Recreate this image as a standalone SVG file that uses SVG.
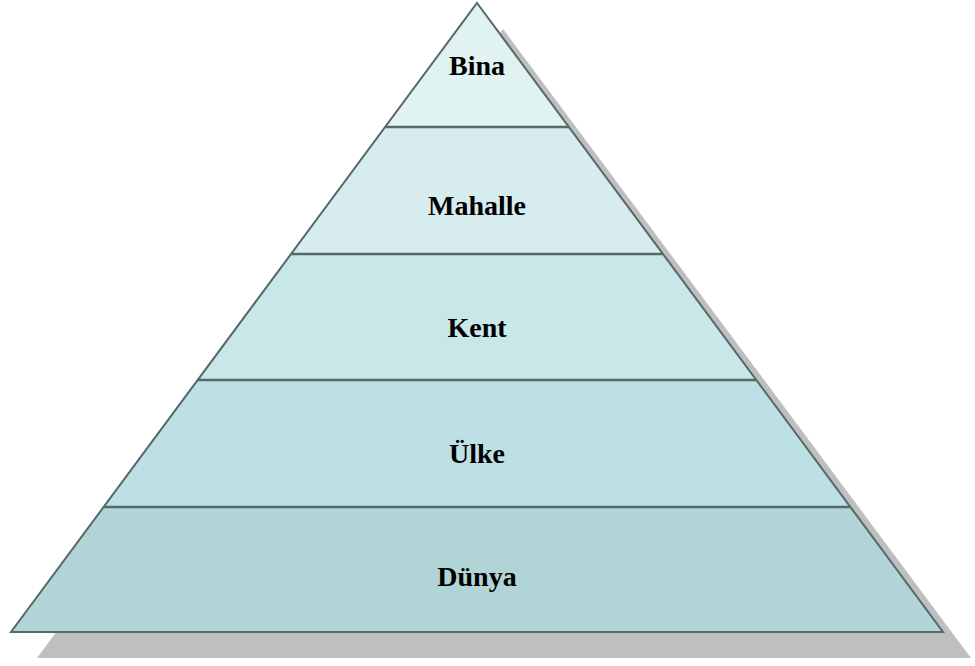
<svg xmlns="http://www.w3.org/2000/svg" width="975" height="666" viewBox="0 0 975 666">
<style>
.band{stroke:none}
.edge{fill:none;stroke:#56686a;stroke-width:2;stroke-linejoin:miter}
.sep{stroke:#56686a;stroke-width:2.5}
.lbl{font-family:"Liberation Serif","Times New Roman",serif;font-weight:bold;font-size:28px;fill:#000;text-anchor:middle}
</style>
<rect width="975" height="666" fill="#fff"/>
<polygon id="shadow" points="503,29 971,658 37,658" fill="#bfbfbf"/>
<g id="bina"><polygon class="band" points="477,3 568.9,127 385.1,127" fill="#e1f2f3"/><text class="lbl" x="477" y="75">Bina</text></g>
<g id="mahalle"><polygon class="band" points="385.1,127 568.9,127 663,254 291,254" fill="#d7ecef"/><text class="lbl" x="477" y="215">Mahalle</text></g>
<g id="kent"><polygon class="band" points="291,254 663,254 756.3,380 197.7,380" fill="#c9e6e8"/><text class="lbl" x="477" y="337">Kent</text></g>
<g id="ulke"><polygon class="band" points="197.7,380 756.3,380 850.4,507 103.6,507" fill="#bce0e3"/><text class="lbl" x="477" y="463">Ülke</text></g>
<g id="dunya"><polygon class="band" points="103.6,507 850.4,507 943,632 11,632" fill="#b1d4d6"/><text class="lbl" x="477" y="586">Dünya</text></g>
<g id="connectors">
<line class="sep" x1="385.1" y1="127" x2="568.9" y2="127"/>
<line class="sep" x1="291" y1="254" x2="663" y2="254"/>
<line class="sep" x1="197.7" y1="380" x2="756.3" y2="380"/>
<line class="sep" x1="103.6" y1="507" x2="850.4" y2="507"/>
<polygon class="edge" points="477,3 943,632 11,632"/>
</g>
</svg>
